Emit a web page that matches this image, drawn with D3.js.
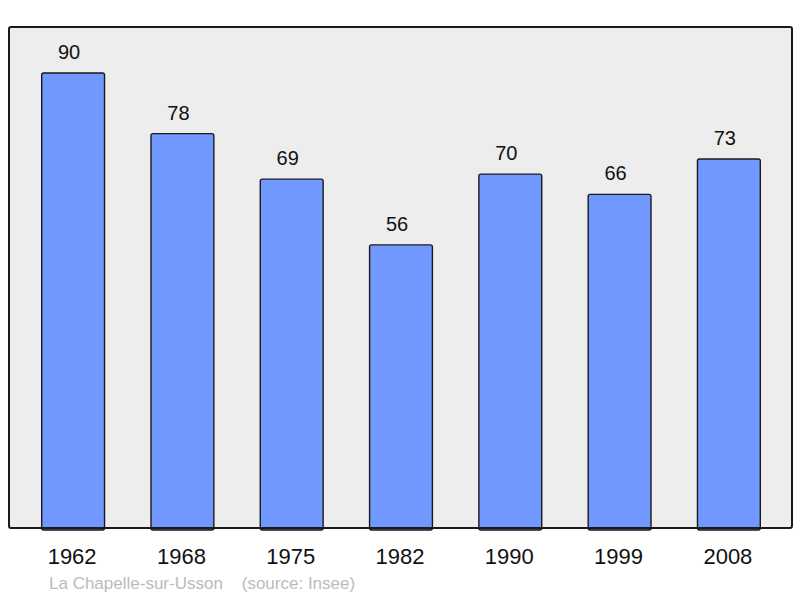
<!DOCTYPE html>
<html>
<head>
<meta charset="utf-8">
<script src="https://cdn.jsdelivr.net/npm/d3@7"></script>
<style>
  body { margin: 0; background: #fff; }
  text { font-family: "Liberation Sans", Arial, sans-serif; }
</style>
</head>
<body>
<svg id="chart" width="800" height="598"></svg>
<script>
const years = ['1962', '1968', '1975', '1982', '1990', '1999', '2008'];
const population = [90, 78, 69, 56, 70, 66, 73];
const commune = 'La Chapelle-sur-Usson';
const source = '(source: Insee)';

const svg = d3.select('#chart');
const frame = { left: 9, top: 27, right: 792, bottom: 528 };

const x = d3.scaleBand()
  .domain(years)
  .range([frame.left + 1, frame.right])
  .paddingInner(0.425)
  .paddingOuter(0.29);

const y = d3.scaleLinear()
  .domain([0, 99.1])
  .range([frame.bottom, frame.top]);

// plot background
svg.append('rect')
  .attr('x', frame.left)
  .attr('y', frame.top)
  .attr('width', frame.right - frame.left)
  .attr('height', frame.bottom - frame.top)
  .attr('rx', 2)
  .attr('fill', '#ededed');

const data = years.map((year, i) => ({ year, value: population[i] }));

svg.selectAll('.bar')
  .data(data)
  .enter()
  .append('rect')
  .classed('bar', true)
  .attr('x', (d) => x(d.year))
  .attr('y', (d) => y(d.value))
  .attr('width', x.bandwidth())
  .attr('height', (d) => y(0) - y(d.value) + 2)
  .attr('rx', 2)
  .attr('fill', '#7098ff')
  .attr('stroke', '#1a1a1a')
  .attr('stroke-width', 1.4);

svg.selectAll('.value')
  .data(data)
  .enter()
  .append('text')
  .classed('value', true)
  .attr('x', (d) => x(d.year) + x.bandwidth() / 2 - 4)
  .attr('y', (d) => y(d.value) - 14)
  .attr('text-anchor', 'middle')
  .attr('font-size', 20)
  .attr('fill', '#111')
  .text((d) => d.value);

// frame on top of bars
svg.append('rect')
  .attr('x', frame.left)
  .attr('y', frame.top)
  .attr('width', frame.right - frame.left)
  .attr('height', frame.bottom - frame.top)
  .attr('rx', 2)
  .attr('fill', 'none')
  .attr('stroke', '#1a1a1a')
  .attr('stroke-width', 2);

const xAxis = d3.axisBottom(x).tickSize(0).tickPadding(0);
const axisG = svg.append('g')
  .attr('transform', `translate(0,${frame.bottom})`)
  .call(xAxis);
axisG.select('.domain').remove();
axisG.selectAll('text')
  .attr('dy', null)
  .attr('x', -1)
  .attr('y', 36)
  .attr('font-size', 22)
  .attr('font-family', '"Liberation Sans", Arial, sans-serif')
  .attr('fill', '#111');

svg.append('text')
  .attr('x', 49)
  .attr('y', 589)
  .attr('font-size', 17)
  .attr('fill', '#bbb')
  .attr('xml:space', 'preserve')
  .text(`${commune}    ${source}`);
</script>
</body>
</html>
